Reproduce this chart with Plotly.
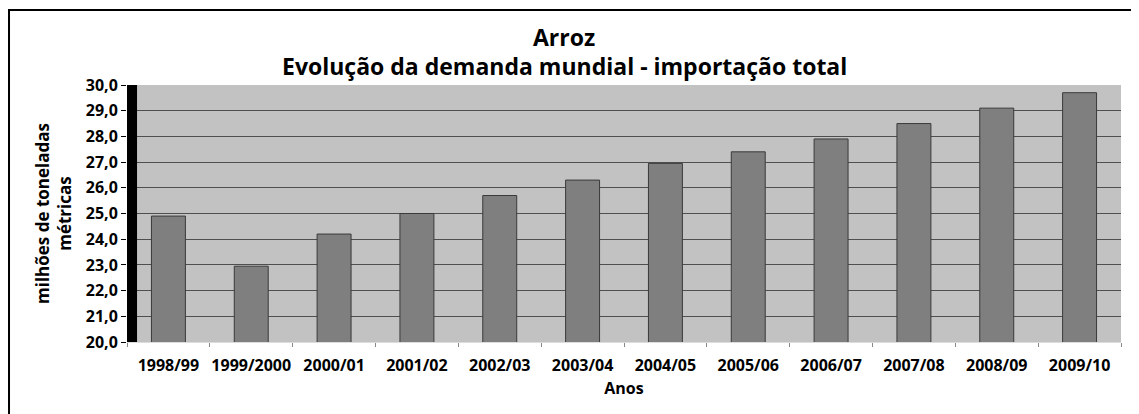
import plotly.graph_objects as go

anos = ["1998/99", "1999/2000", "2000/01", "2001/02", "2002/03", "2003/04",
        "2004/05", "2005/06", "2006/07", "2007/08", "2008/09", "2009/10"]
importacao = [24.9, 22.95, 24.2, 25.0, 25.7, 26.3, 26.95, 27.4, 27.9, 28.5, 29.1, 29.7]

y_ticks = [20, 21, 22, 23, 24, 25, 26, 27, 28, 29, 30]

FONT = "Open Sans"


def createGraph():
    fig = go.Figure()
    fig.add_trace(go.Bar(
        x=anos,
        y=importacao,
        marker=dict(color="#7f7f7f", line=dict(color="#3a3a3a", width=1)),
        width=0.41,
    ))

    # page body adds 8px, so the figure is a bit smaller than the window
    fig.update_layout(
        width=1131,
        height=406,
        margin=dict(l=119, r=18, t=77, b=72),
        paper_bgcolor="white",
        plot_bgcolor="#c2c2c2",
        separators=", ",
        showlegend=False,
        font=dict(family=FONT, color="black", size=16, weight="bold"),
    )

    # two-line title
    fig.add_annotation(text="Arroz", xref="paper", yref="paper",
                       x=0.44, y=1.188, xanchor="center", yanchor="middle",
                       showarrow=False, font=dict(family=FONT, size=23, weight="bold"))
    fig.add_annotation(text="Evolução da demanda mundial - importação total",
                       xref="paper", yref="paper",
                       x=0.44, y=1.072, xanchor="center", yanchor="middle",
                       showarrow=False, font=dict(family=FONT, size=23, weight="bold"))

    fig.update_xaxes(
        type="category",
        automargin=False,
        tickangle=0,
        tickson="boundaries",
        ticks="outside",
        ticklen=4,
        tickcolor="#888888",
        ticklabelstandoff=9,
        showline=True,
        linecolor="#dddddd",
        showgrid=False,
        tickfont=dict(family=FONT, size=16, weight="bold"),
        title=dict(text="Anos", font=dict(family=FONT, size=16, weight="bold"), standoff=7),
    )
    fig.update_yaxes(
        range=[20, 30],
        automargin=False,
        tickvals=y_ticks,
        tickformat=".1f",
        ticks="outside",
        ticklen=5,
        tickcolor="black",
        showgrid=True,
        gridcolor="#4f4f4f",
        gridwidth=1,
        zeroline=False,
        showline=False,
        tickfont=dict(family=FONT, size=16, weight="bold"),
        title=dict(text="milhões de toneladas<br>métricas",
                   font=dict(family=FONT, size=17, weight="bold"), standoff=9),
    )

    # black side wall of the 3D chart
    fig.add_shape(type="rect", xref="paper", yref="paper",
                  x0=0, x1=0.0101, y0=0, y1=1,
                  fillcolor="black", line=dict(width=0), layer="above")
    # outer border (right and bottom edges fall outside the picture)
    fig.add_shape(type="rect", xref="paper", yref="paper",
                  x0=-0.1187, x1=1.04, y0=-0.35, y1=1.292,
                  line=dict(color="black", width=2), fillcolor="rgba(0,0,0,0)")

    fig.write_html("out.html")


def main():
    createGraph()


if __name__ == "__main__":
    main()
